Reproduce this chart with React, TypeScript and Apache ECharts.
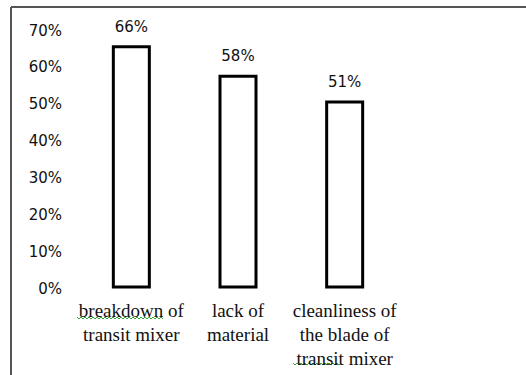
import React, { useEffect, useRef } from "react";
import * as echarts from "echarts";

const categories = [
  "breakdown of\ntransit mixer",
  "lack of\nmaterial",
  "cleanliness of\nthe blade of\ntransit mixer",
];
const shares = [66, 58, 51];
const yTicks = { min: 0, max: 70, interval: 10 };

// zig-zag points for a spell-check style underline
function wave(x0: number, x1: number, y: number): number[][] {
  const pts: number[][] = [];
  let up = true;
  for (let x = x0; x <= x1; x += 2) {
    pts.push([x, up ? y - 1 : y + 1]);
    up = !up;
  }
  return pts;
}

export default function App() {
  const ref = useRef<HTMLDivElement>(null);
  useEffect(() => {
    if (!ref.current) return;
    const chart = echarts.init(ref.current, null, { renderer: "svg" });
    chart.setOption({
      animation: false,
      backgroundColor: "#fff",
      grid: { left: 78, width: 320, top: 30.5, height: 258 },
      xAxis: {
        type: "category",
        data: categories,
        axisLine: { show: false },
        axisTick: { show: false },
        axisLabel: {
          interval: 0,
          margin: 10,
          color: "#111",
          fontFamily: "Liberation Serif",
          fontSize: 19,
          lineHeight: 24,
        },
      },
      yAxis: {
        type: "value",
        min: yTicks.min,
        max: yTicks.max,
        interval: yTicks.interval,
        splitLine: { show: false },
        axisLine: { show: false },
        axisTick: { show: false },
        axisLabel: {
          formatter: "{value}%",
          margin: 16,
          color: "#111",
          fontFamily: "DejaVu Sans",
          fontSize: 15,
        },
      },
      series: [
        {
          type: "bar",
          data: shares,
          barWidth: 39,
          itemStyle: { color: "#fff", borderColor: "#000", borderWidth: 3 },
          label: {
            show: true,
            position: "top",
            distance: 11,
            formatter: "{c}%",
            color: "#111",
            fontFamily: "DejaVu Sans",
            fontSize: 15,
          },
        },
      ],
      graphic: [
        {
          type: "line",
          shape: { x1: 11, y1: 7, x2: 526, y2: 7 },
          style: { stroke: "#555", lineWidth: 2 },
        },
        {
          type: "line",
          shape: { x1: 11, y1: 7, x2: 11, y2: 375 },
          style: { stroke: "#555", lineWidth: 2 },
        },
        {
          type: "polyline",
          shape: { points: wave(77, 163, 318) },
          style: { stroke: "#3aa33a", lineWidth: 1, fill: null },
        },
        {
          type: "polyline",
          shape: { points: wave(293, 341, 364) },
          style: { stroke: "#3aa33a", lineWidth: 1, fill: null },
        },
      ],
    });
    return () => chart.dispose();
  }, []);
  return (
    <div
      ref={ref}
      style={{ position: "fixed", left: 0, top: 0, width: 526, height: 375 }}
    />
  );
}
